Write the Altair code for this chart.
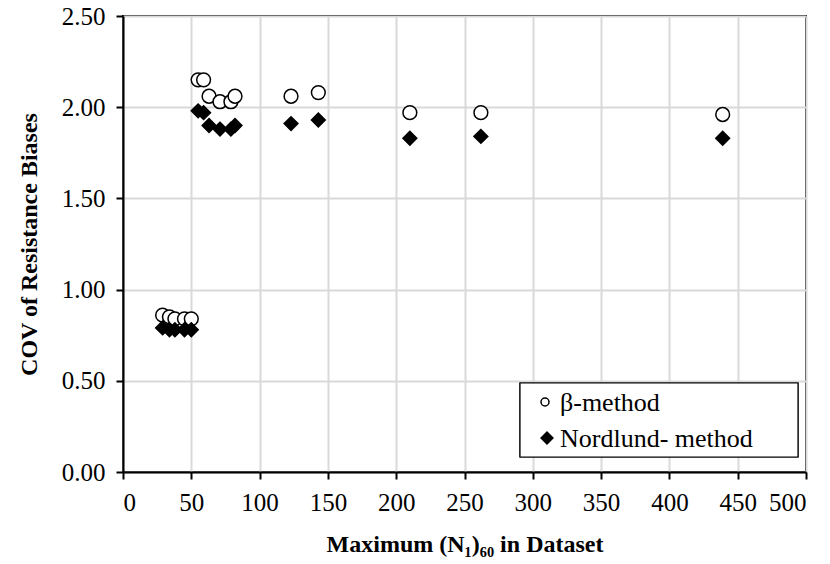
import altair as alt
import pandas as pd

# Maximum (N1)60 of each dataset and the COV of resistance biases per method
n60_max = [29, 34, 38, 45, 50, 55, 59, 63, 71, 79, 82, 123, 143, 210, 262, 439]
cov_beta = [0.86, 0.85, 0.84, 0.84, 0.84, 2.15, 2.15, 2.06, 2.03, 2.03, 2.06,
            2.06, 2.08, 1.97, 1.97, 1.96]
cov_nordlund = [0.79, 0.78, 0.78, 0.78, 0.78, 1.98, 1.97, 1.90, 1.88, 1.88, 1.90,
                1.91, 1.93, 1.83, 1.84, 1.83]
methods = ["β-method", "Nordlund- method"]
shapes = ["circle", "diamond"]
fills = ["white", "black"]

x_ticks = list(range(0, 501, 50))
y_ticks = [0.0, 0.5, 1.0, 1.5, 2.0, 2.5]

rows = []
for method, values in zip(methods, [cov_beta, cov_nordlund]):
    for n, cov in zip(n60_max, values):
        rows.append({"n60": n, "cov": cov, "method": method})
df = pd.DataFrame(rows)
legend_df = pd.DataFrame({"method": methods})

FONT = "Liberation Serif"

shape_enc = alt.Shape("method:N", scale=alt.Scale(domain=methods, range=shapes), legend=None)
fill_enc = alt.Fill("method:N", scale=alt.Scale(domain=methods, range=fills), legend=None)

points = (
    alt.Chart(df)
    .mark_point(filled=True, stroke="black", strokeWidth=1.5, opacity=1,
                fillOpacity=1, size=190)
    .encode(
        x=alt.X(
            "n60:Q",
            scale=alt.Scale(domain=[0, 500], nice=False, zero=False),
            axis=alt.Axis(
                values=x_ticks,
                format="d",
                title="Maximum (N₁)₆₀ in Dataset",
                titlePadding=17,
            ),
        ),
        y=alt.Y(
            "cov:Q",
            scale=alt.Scale(domain=[0, 2.5], nice=False),
            axis=alt.Axis(
                values=y_ticks,
                format=".2f",
                title="COV of Resistance Biases",
                titlePadding=20,
            ),
        ),
        shape=shape_enc,
        fill=fill_enc,
    )
)

# Legend box in the lower right of the plot area
legend_box = alt.Chart(legend_df).mark_rect(
    fill="white", stroke="black", strokeWidth=1.2
).encode(
    x=alt.value(397), x2=alt.value(675), y=alt.value(367), y2=alt.value(441)
)

legend_y = alt.Y(
    "method:N",
    scale=alt.Scale(domain=methods, range=[386, 422], padding=0),
    axis=None,
)

legend_circle = (
    alt.Chart(legend_df)
    .transform_filter(alt.datum.method == methods[0])
    .mark_point(filled=True, stroke="black", strokeWidth=1.5, opacity=1,
                fillOpacity=1, size=64)
    .encode(x=alt.value(422), y=legend_y, shape=shape_enc, fill=fill_enc)
)
legend_diamond = (
    alt.Chart(legend_df)
    .transform_filter(alt.datum.method == methods[1])
    .mark_point(filled=True, stroke="black", strokeWidth=1.5, opacity=1,
                fillOpacity=1, size=140)
    .encode(x=alt.value(424), y=legend_y, shape=shape_enc, fill=fill_enc)
)
legend_text = (
    alt.Chart(legend_df)
    .mark_text(align="left", baseline="middle", font=FONT, fontSize=26,
               color="black", dy=1)
    .encode(x=alt.value(437), y=legend_y, text="method:N")
)

chart = (
    alt.layer(points, legend_box, legend_circle, legend_diamond, legend_text)
    .resolve_scale(y="independent")
    .properties(
        width=683,
        height=456,
        background="white",
        autosize=alt.AutoSizeParams(type="none"),
        padding={"left": 123, "top": 16, "right": 24, "bottom": 92},
    )
    .configure_view(stroke="black", strokeWidth=2)
    .configure_axis(
        domainColor="black",
        domainWidth=2,
        tickColor="black",
        tickWidth=2,
        tickSize=7,
        grid=True,
        gridColor="#d9d9d9",
        gridWidth=2,
        labelFont=FONT,
        labelFontSize=25,
        labelColor="black",
        labelPadding=11,
        titleFont=FONT,
        titleFontSize=24,
        titleFontWeight="bold",
        titleColor="black",
    )
)

chart.save("out.html", embed_options={"renderer": "svg", "actions": False})
